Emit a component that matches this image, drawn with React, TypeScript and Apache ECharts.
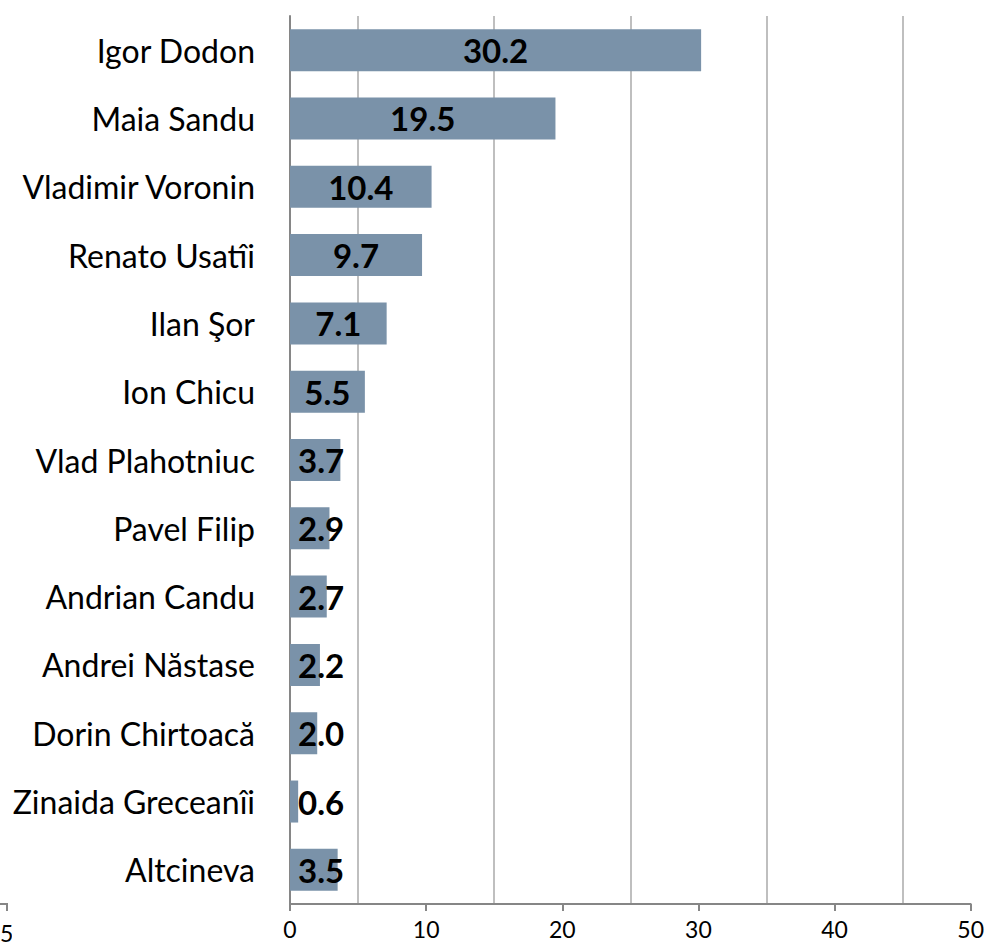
import React, { useEffect, useRef } from "react";
import * as echarts from "echarts";

const categories = [
  "Igor Dodon",
  "Maia Sandu",
  "Vladimir Voronin",
  "Renato Usatîi",
  "Ilan Şor",
  "Ion Chicu",
  "Vlad Plahotniuc",
  "Pavel Filip",
  "Andrian Candu",
  "Andrei Năstase",
  "Dorin Chirtoacă",
  "Zinaida Greceanîi",
  "Altcineva",
];
const values = [30.2, 19.5, 10.4, 9.7, 7.1, 5.5, 3.7, 2.9, 2.7, 2.2, 2.0, 0.6, 3.5];
const xTicks = [0, 10, 20, 30, 40, 50];

const FONT = "Lato, 'Open Sans', sans-serif";

export default function App() {
  const ref = useRef<HTMLDivElement>(null);
  useEffect(() => {
    if (!ref.current) return;
    const chart = echarts.init(ref.current, undefined, { renderer: "svg" });
    const cats = [...categories].reverse();
    const vals = [...values].reverse();
    chart.setOption({
      animation: false,
      backgroundColor: "#ffffff",
      grid: { left: 290, right: 16, top: 16, bottom: 41, containLabel: false },
      xAxis: [
        {
          type: "value",
          min: xTicks[0],
          max: xTicks[xTicks.length - 1],
          interval: 10,
          position: "bottom",
          axisLine: { show: true, lineStyle: { color: "#868686", width: 2 } },
          axisTick: { show: true, length: 7, lineStyle: { color: "#868686", width: 2 } },
          axisLabel: { color: "#000", fontFamily: FONT, fontSize: 23, margin: 13 },
          splitLine: { show: false },
        },
        {
          type: "value",
          min: 0,
          max: 50,
          interval: 5,
          position: "top",
          axisLine: { show: false },
          axisTick: { show: false },
          axisLabel: { show: false },
          splitLine: {
            show: true,
            lineStyle: { color: ["rgba(0,0,0,0)", "#bfbfbf"], width: 2 },
          },
        },
      ],
      yAxis: {
        type: "category",
        data: cats,
        axisLine: { show: true, lineStyle: { color: "#868686", width: 2 } },
        axisTick: { show: false },
        axisLabel: { color: "#000", fontFamily: FONT, fontSize: 32, margin: 35 },
        splitLine: { show: false },
      },
      series: [
        {
          type: "bar",
          xAxisIndex: 0,
          data: vals.map((v) => ({
            value: v,
            label:
              v < 4.5
                ? { position: "insideLeft", distance: 8 }
                : { position: "inside" },
          })),
          barWidth: 42,
          itemStyle: { color: "#7a92a9" },
          label: {
            show: true,
            color: "#000",
            fontFamily: FONT,
            fontWeight: "bold",
            fontSize: 33,
            formatter: (p: any) => Number(p.value).toFixed(1),
          },
        },
      ],
      graphic: [
        { type: "line", shape: { x1: 0, y1: 904, x2: 8, y2: 904 }, style: { stroke: "#868686", lineWidth: 2 } },
        { type: "line", shape: { x1: 7, y1: 904, x2: 7, y2: 911 }, style: { stroke: "#868686", lineWidth: 2 } },
        { type: "text", left: 0, top: 921, style: { text: "50", font: `23px ${FONT}`, fill: "#000" } },
        { type: "rect", shape: { x: 12, y: 915, width: 30, height: 30 }, style: { fill: "#ffffff" } },
      ],
    });
    return () => chart.dispose();
  }, []);
  return (
    <div
      ref={ref}
      style={{ position: "absolute", left: 0, top: 0, width: 987, height: 945 }}
    />
  );
}
